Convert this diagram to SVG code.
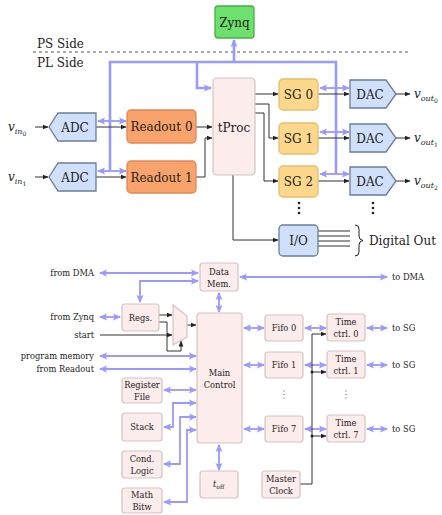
<svg xmlns="http://www.w3.org/2000/svg" width="442" height="515" viewBox="0 0 442 515">
<defs>
<marker id="ak" viewBox="0 0 6 6" refX="5.5" refY="3" markerWidth="6" markerHeight="6" markerUnits="userSpaceOnUse" orient="auto-start-reverse"><path d="M0,0.6 L6,3 L0,5.4 Z" fill="#222"/></marker>
<marker id="ab" viewBox="0 0 8 8" refX="7" refY="4" markerWidth="8" markerHeight="8" markerUnits="userSpaceOnUse" orient="auto-start-reverse"><path d="M0,0.5 L8,4 L0,7.5 L1.5,4 Z" fill="#9999ff"/></marker>
<style>
text{font-family:"DejaVu Serif",serif;fill:#222}
.t14{font-size:12px}
.t10{font-size:8.3px}
.mid{text-anchor:middle}
.end{text-anchor:end}
.bus{fill:none;stroke:#9999ff;stroke-width:2.6}
.bl{fill:none;stroke:#9999ff;stroke-width:1.8;marker-start:url(#ab);marker-end:url(#ab)}
.bl1{fill:none;stroke:#9999ff;stroke-width:2.6;marker-end:url(#ab)}
.bk{fill:none;stroke:#333;stroke-width:1;marker-end:url(#ak)}
.ln{fill:none;stroke:#333;stroke-width:1}
.cv{fill:#d0e0fa;stroke:#6a7d9a;stroke-width:1.3}
.ro{fill:#f9a36c;stroke:#e08855;stroke-width:1.3}
.sg{fill:#fcd88c;stroke:#e5bf6e;stroke-width:1.3}
.pk{fill:#fcecec;stroke:#d3c3c3;stroke-width:1.2}
.zy{fill:#6de06d;stroke:#45b045;stroke-width:1.3}
</style>
</defs>

<g id="labels-top">
<text class="t14" x="37" y="48">PS Side</text>
<text class="t14" x="37" y="67">PL Side</text>
<line x1="33" y1="52" x2="411" y2="52" stroke="#555" stroke-width="1" stroke-dasharray="3,3"/>
</g>

<g id="connectors">
<path class="bus" d="M110,171 V62 H336 V174"/>
<path class="bl1" d="M197,62 V88 H211"/>
<path class="bl1" d="M234,62 V40"/>
<path class="bl" d="M98,121 H126"/>
<path class="bl" d="M98,171 H126"/>
<path class="bl" d="M320,88 H349"/>
<path class="bl" d="M320,132 H349"/>
<path class="bl" d="M320,174 H349"/>
<path class="bk" d="M35,127 H48"/>
<path class="bk" d="M35,177 H48"/>
<path class="bk" d="M96,127 H126"/>
<path class="bk" d="M96,177 H126"/>
<path class="bk" d="M196,127 H212"/>
<path class="bk" d="M196,177 H205 V138 H212"/>
<path class="bk" d="M255,94 H278"/>
<path class="bk" d="M255,104 H269 V138 H278"/>
<path class="bk" d="M255,113 H264 V181 H278"/>
<path class="bk" d="M233,175 V240 H278"/>
<path class="bk" d="M318,94 H349"/>
<path class="bk" d="M318,138 H349"/>
<path class="bk" d="M318,181 H349"/>
<path class="bk" d="M396,94 H410"/>
<path class="bk" d="M396,138 H410"/>
<path class="bk" d="M396,181 H410"/>
<path class="ln" d="M318,231 H350 M318,236 H350 M318,241 H350 M318,246 H350" stroke-width="1.2"/>

<path class="bl" d="M100,273 H198"/>
<path class="bl" d="M140,302 V281 H198"/>
<path class="bl" d="M240,277 H387"/>
<path class="bl" d="M100,317 H120"/>
<path class="bl" d="M100,356 H196"/>
<path class="bl" d="M100,369 H196"/>
<path class="bl" d="M219,293 V312"/>
<path class="bl" d="M219,445 V470"/>
<path class="bl" d="M164,390 H196"/>
<path class="bl" d="M164,427 H173 V403 H196"/>
<path class="bl" d="M164,464 H180 V417 H196"/>
<path class="bl" d="M164,502 H187 V430 H196"/>
<path class="bl" d="M244,328 H264"/>
<path class="bl" d="M244,365 H264"/>
<path class="bl" d="M244,429 H264"/>
<path class="bl" d="M305,328 H326"/>
<path class="bl" d="M305,365 H326"/>
<path class="bl" d="M305,429 H326"/>
<path class="bl" d="M367,328 H387"/>
<path class="bl" d="M367,365 H387"/>
<path class="bl" d="M367,429 H387"/>
<path class="bk" d="M159,315 H172"/>
<path class="bk" d="M159,322 H167 V351 H181 V341"/>
<path class="bk" d="M100,335 H172"/>
<path class="bk" d="M187,325 H196"/>
<path class="bk" d="M300,484 H312 V334 H326"/>
<path class="bk" d="M312,372 H326"/>
<path class="bk" d="M312,436 H326"/>
<circle cx="312" cy="372" r="1.5" fill="#222"/>
<circle cx="312" cy="436" r="1.5" fill="#222"/>
</g>

<g id="zynq"><rect class="zy" x="215" y="6" width="39" height="32" rx="3"/><text class="t14 mid" x="234.5" y="26.5">Zynq</text></g>

<g id="vin0"><text class="t14" x="8" y="131"><tspan font-style="italic">v</tspan><tspan font-size="8" font-style="italic" dy="3">in</tspan><tspan font-size="6" dy="1.5">0</tspan></text></g>
<g id="vin1"><text class="t14" x="8" y="181"><tspan font-style="italic">v</tspan><tspan font-size="8" font-style="italic" dy="3">in</tspan><tspan font-size="6" dy="1.5">1</tspan></text></g>

<g id="adc0"><polygon class="cv" points="49,127 58,113 96,113 96,141 58,141"/><text class="t14 mid" x="75" y="131.5">ADC</text></g>
<g id="adc1"><polygon class="cv" points="49,177 58,163 96,163 96,191 58,191"/><text class="t14 mid" x="75" y="181.5">ADC</text></g>

<g id="readout0"><rect class="ro" x="127" y="110" width="69" height="33" rx="4"/><text class="t14 mid" x="161.5" y="131">Readout 0</text></g>
<g id="readout1"><rect class="ro" x="127" y="161" width="69" height="32" rx="4"/><text class="t14 mid" x="161.5" y="181.5">Readout 1</text></g>

<g id="tproc"><rect class="pk" x="213" y="78" width="42" height="97" rx="4"/><text class="t14 mid" x="234" y="131.5">tProc</text></g>

<g id="sg0"><rect class="sg" x="279" y="79" width="39" height="31" rx="4"/><text class="t14 mid" x="298.5" y="98.5">SG 0</text></g>
<g id="sg1"><rect class="sg" x="279" y="123" width="39" height="31" rx="4"/><text class="t14 mid" x="298.5" y="142.5">SG 1</text></g>
<g id="sg2"><rect class="sg" x="279" y="166" width="39" height="31" rx="4"/><text class="t14 mid" x="298.5" y="185.5">SG 2</text></g>

<g id="dac0"><polygon class="cv" points="350,80 386,80 396,94 386,108 350,108"/><text class="t14 mid" x="370" y="98.5">DAC</text></g>
<g id="dac1"><polygon class="cv" points="350,124 386,124 396,138 386,152 350,152"/><text class="t14 mid" x="370" y="142.5">DAC</text></g>
<g id="dac2"><polygon class="cv" points="350,167 386,167 396,181 386,195 350,195"/><text class="t14 mid" x="370" y="185.5">DAC</text></g>

<g id="vout0"><text class="t14" x="414" y="98"><tspan font-style="italic">v</tspan><tspan font-size="8" font-style="italic" dy="3">out</tspan><tspan font-size="6" dy="1.5">0</tspan></text></g>
<g id="vout1"><text class="t14" x="414" y="142"><tspan font-style="italic">v</tspan><tspan font-size="8" font-style="italic" dy="3">out</tspan><tspan font-size="6" dy="1.5">1</tspan></text></g>
<g id="vout2"><text class="t14" x="414" y="185"><tspan font-style="italic">v</tspan><tspan font-size="8" font-style="italic" dy="3">out</tspan><tspan font-size="6" dy="1.5">2</tspan></text></g>

<g id="dots-top" fill="#222">
<circle cx="299" cy="203" r="1.3"/><circle cx="299" cy="208" r="1.3"/><circle cx="299" cy="213" r="1.3"/>
<circle cx="373" cy="203" r="1.3"/><circle cx="373" cy="208" r="1.3"/><circle cx="373" cy="213" r="1.3"/>
</g>

<g id="io"><rect class="cv" x="279" y="225" width="39" height="31" rx="4"/><text class="t14 mid" x="298.5" y="244.5">I/O</text></g>
<g id="digital-out">
<path d="M355,225 Q359,225 359,229 L359,236 Q359,240 363,240.5 Q359,241 359,245 L359,252 Q359,256 355,256" fill="none" stroke="#222" stroke-width="1"/>
<text class="t14" x="369" y="245">Digital Out</text>
</g>

<g id="ext-labels">
<text class="t10 end" x="94" y="276">from DMA</text>
<text class="t10 end" x="94" y="320">from Zynq</text>
<text class="t10 end" x="94" y="338">start</text>
<text class="t10 end" x="94" y="359">program memory</text>
<text class="t10 end" x="94" y="372">from Readout</text>
<text class="t10" x="392" y="280">to DMA</text>
<text class="t10" x="392" y="331">to SG</text>
<text class="t10" x="392" y="368">to SG</text>
<text class="t10" x="392" y="432">to SG</text>
</g>

<g id="datamem"><rect class="pk" x="200" y="263" width="38" height="28" rx="3"/><text class="t10 mid" x="219" y="275">Data</text><text class="t10 mid" x="219" y="286.5">Mem.</text></g>
<g id="regs"><rect class="pk" x="122" y="304" width="37" height="27" rx="3"/><text class="t10 mid" x="140.5" y="320.5">Regs.</text></g>
<g id="mux"><polygon class="pk" points="173,305 187,316 187,337 173,345"/></g>
<g id="maincontrol"><rect class="pk" x="197" y="313" width="45" height="130" rx="3"/><text class="t10 mid" x="219.5" y="376">Main</text><text class="t10 mid" x="219.5" y="388">Control</text></g>
<g id="regfile"><rect class="pk" x="122" y="378" width="40" height="25" rx="3"/><text class="t10 mid" x="142" y="388">Register</text><text class="t10 mid" x="142" y="399.5">File</text></g>
<g id="stack"><rect class="pk" x="122" y="413" width="40" height="28" rx="3"/><text class="t10 mid" x="142" y="430">Stack</text></g>
<g id="condlogic"><rect class="pk" x="122" y="451" width="40" height="27" rx="3"/><text class="t10 mid" x="142" y="462">Cond.</text><text class="t10 mid" x="142" y="473.5">Logic</text></g>
<g id="mathbitw"><rect class="pk" x="122" y="488" width="40" height="25" rx="3"/><text class="t10 mid" x="142" y="498">Math</text><text class="t10 mid" x="142" y="509.5">Bitw</text></g>
<g id="toff"><rect class="pk" x="200" y="471" width="38" height="27" rx="3"/><text class="t10" x="213" y="487"><tspan font-style="italic">t</tspan><tspan font-size="6" dy="2">off</tspan></text></g>

<g id="fifo0"><rect class="pk" x="265" y="315" width="38" height="26" rx="3"/><text class="t10 mid" x="284" y="331">Fifo 0</text></g>
<g id="fifo1"><rect class="pk" x="265" y="352" width="38" height="26" rx="3"/><text class="t10 mid" x="284" y="368">Fifo 1</text></g>
<g id="fifo7"><rect class="pk" x="265" y="416" width="38" height="26" rx="3"/><text class="t10 mid" x="284" y="432">Fifo 7</text></g>
<g id="time0"><rect class="pk" x="327" y="314" width="38" height="27" rx="3"/><text class="t10 mid" x="346" y="325">Time</text><text class="t10 mid" x="346" y="336.5">ctrl. 0</text></g>
<g id="time1"><rect class="pk" x="327" y="351" width="38" height="27" rx="3"/><text class="t10 mid" x="346" y="362">Time</text><text class="t10 mid" x="346" y="373.5">ctrl. 1</text></g>
<g id="time7"><rect class="pk" x="327" y="415" width="38" height="27" rx="3"/><text class="t10 mid" x="346" y="426">Time</text><text class="t10 mid" x="346" y="437.5">ctrl. 7</text></g>
<g id="masterclock"><rect class="pk" x="262" y="471" width="38" height="27" rx="3"/><text class="t10 mid" x="281" y="482">Master</text><text class="t10 mid" x="281" y="493.5">Clock</text></g>

<g id="dots-bottom" fill="#444">
<circle cx="284" cy="391" r="0.6"/><circle cx="284" cy="394.5" r="0.6"/><circle cx="284" cy="398" r="0.6"/>
<circle cx="346" cy="391" r="0.6"/><circle cx="346" cy="394.5" r="0.6"/><circle cx="346" cy="398" r="0.6"/>
</g>
</svg>
